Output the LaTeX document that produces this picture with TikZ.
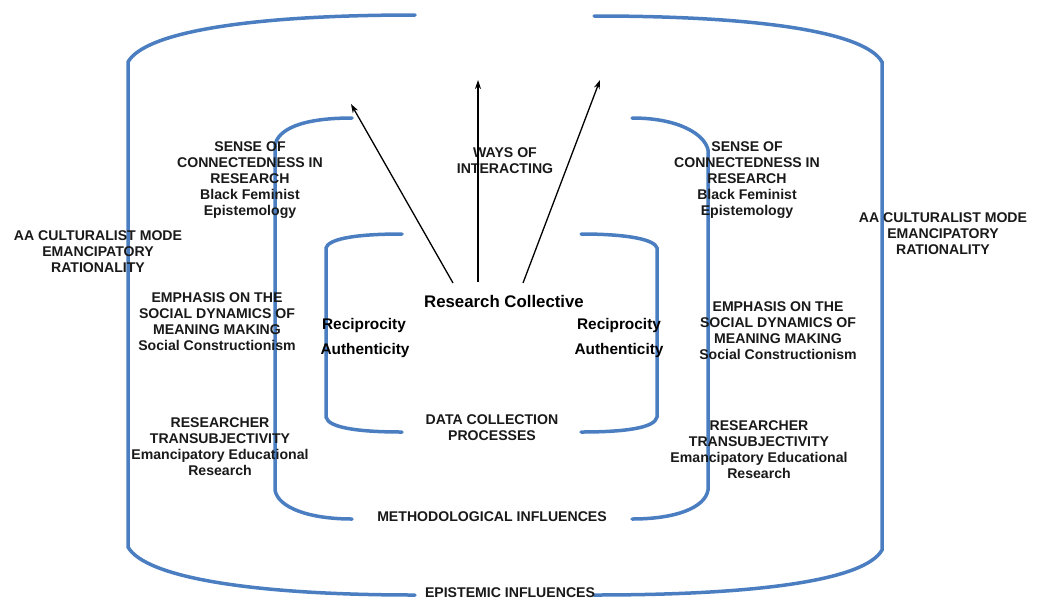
\documentclass[tikz,border=0pt]{standalone}
\usepackage{fontspec}
\setmainfont{Liberation Sans}
\usetikzlibrary{arrows.meta}
\definecolor{bracketblue}{RGB}{74,126,193}
\tikzset{
  bracket/.style={draw=bracketblue, line width=3.5pt, line cap=round},
  lbl/.style={align=center, inner sep=0pt, font=\fontsize{14.1}{16}\selectfont\bfseries, text=black!90},
  biglbl/.style={align=center, inner sep=0pt, font=\fontsize{16.8}{19}\selectfont\bfseries},
  midlbl/.style={align=center, inner sep=0pt, font=\fontsize{15.4}{17}\selectfont\bfseries},
  arr/.style={draw=black, line width=1.3pt, -{Stealth[length=9pt,width=6pt]}}
}
\begin{document}
\begin{tikzpicture}[x=1pt,y=-1pt]
\useasboundingbox (0,0) rectangle (1040,600);
% outer bracket
\draw[bracket] (415,15) .. controls (250,15) and (145,32) .. (128,62) -- (128,547) .. controls (145,577) and (250,595) .. (415,595);
\draw[bracket] (594,16) .. controls (760,16) and (865,32) .. (882,62) -- (882,550) .. controls (865,580) and (760,595) .. (594,595);
% middle bracket
\draw[bracket] (352,118) .. controls (300,118) and (278,130) .. (275,145) -- (275,490) .. controls (278,508) and (310,519) .. (352,519);
\draw[bracket] (632,118) .. controls (680,118) and (705,135) .. (708,150) -- (708,490) .. controls (705,508) and (675,519) .. (632,519);
% inner bracket
\draw[bracket] (402,234) .. controls (350,234) and (328,240) .. (326,248) -- (326,417) .. controls (328,428) and (360,432) .. (402,432);
\draw[bracket] (581,234) .. controls (630,234) and (655,240) .. (657,248) -- (657,417) .. controls (655,428) and (625,432) .. (581,432);

% labels
\node[lbl] (ways) at (505,161) {WAYS OF\\INTERACTING};
\node[lbl] (senseL) at (250,180) {SENSE OF\\CONNECTEDNESS IN\\RESEARCH\\Black Feminist\\Epistemology};
\node[lbl] (senseR) at (747,180) {SENSE OF\\CONNECTEDNESS IN\\RESEARCH\\Black Feminist\\Epistemology};
\node[lbl] (aaL) at (98,252) {AA CULTURALIST MODE\\EMANCIPATORY\\RATIONALITY};
\node[lbl] (aaR) at (943,234) {AA CULTURALIST MODE\\EMANCIPATORY\\RATIONALITY};
\node[lbl] (empL) at (217,322) {EMPHASIS ON THE\\SOCIAL DYNAMICS OF\\MEANING MAKING\\Social Constructionism};
\node[lbl] (empR) at (778,331) {EMPHASIS ON THE\\SOCIAL DYNAMICS OF\\MEANING MAKING\\Social Constructionism};
\node[lbl] (resL) at (220,447) {RESEARCHER\\TRANSUBJECTIVITY\\Emancipatory Educational\\Research};
\node[lbl] (resR) at (759,450) {RESEARCHER\\TRANSUBJECTIVITY\\Emancipatory Educational\\Research};
\node[biglbl] (rc) at (504,301) {Research Collective};
\node[midlbl] (recL) at (364,326) {Reciprocity};
\node[midlbl] (autL) at (365,351) {Authenticity};
\node[midlbl] (recR) at (619,326) {Reciprocity};
\node[midlbl] (autR) at (619,351) {Authenticity};
\node[lbl] (data) at (492,428) {DATA COLLECTION\\PROCESSES};
\node[lbl] (meth) at (492,517) {METHODOLOGICAL INFLUENCES};
\node[lbl] (epi) at (510,593) {EPISTEMIC INFLUENCES};

% arrows
\coordinate (s1) at (453,283);
\coordinate (s2) at (478,282);
\coordinate (s3) at (523,283);
\coordinate (e1) at (351,104);
\coordinate (e2) at (478,80);
\coordinate (e3) at (600,80);
\draw[arr] (s1) -- (e1);
\draw[arr] (s2) -- (e2);
\draw[arr] (s3) -- (e3);
\end{tikzpicture}
\end{document}
